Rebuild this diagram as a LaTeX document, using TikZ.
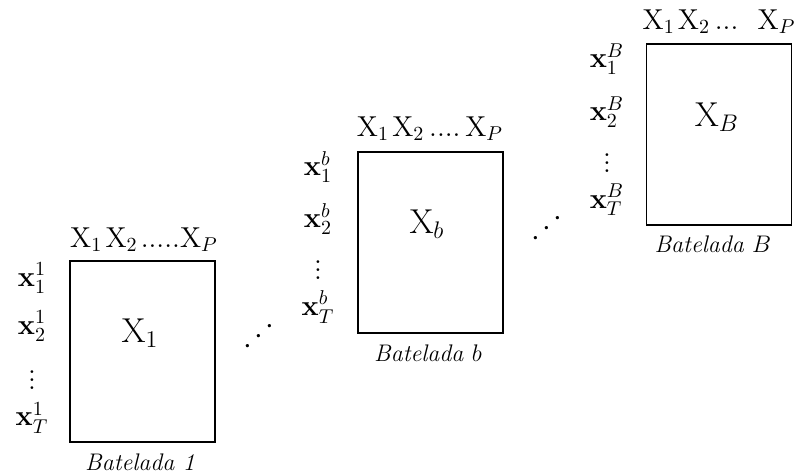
\documentclass[tikz,border=0pt]{standalone}
\usepackage{amsmath,amssymb}
\usepackage{graphicx}
\usetikzlibrary{positioning}

\begin{document}
\begin{tikzpicture}[x=0.5pt, y=-0.5pt,
    mat/.style={draw, thick, minimum width=72.5pt, minimum height=90.5pt, inner sep=0pt},
    inside/.style={font=\LARGE, inner sep=0pt},
    collab/.style={font=\Large, inner sep=1pt},
    rowlab/.style={font=\Large, inner sep=0pt},
    batch/.style={font=\large\itshape, inner sep=1pt},
    dd/.style={font=\LARGE, rotate=42, inner sep=0pt}]
  \useasboundingbox (0,0) rectangle (794,474);
  % Batelada 1
  \node[mat] (m1) at (142.5,351.5) {};
  \node[inside] (t1) at (140,333) {$\mathrm{X}_1$};
  \node[collab] (c1) at (144,240) {$\mathrm{X}_1\mkern2mu\mathrm{X}_2\mkern2mu.....\mathrm{X}_P$};
  \node[rowlab] (r11) at (32,278) {$\mathbf{x}_1^{1}$};
  \node[rowlab] (r12) at (32,326) {$\mathbf{x}_2^{1}$};
  \node[rowlab] (r13) at (32,374) {$\boldsymbol{\vdots}$};
  \node[rowlab] (r14) at (32,418) {$\mathbf{x}_T^{1}$};
  \node[batch] (b1) at (140,462) {Batelada 1};
  % Batelada b
  \node[mat] (mb) at (430.5,242.5) {};
  \node[inside] (tb) at (427,224) {$\mathrm{X}_b$};
  \node[collab] (cb) at (430,129) {$\mathrm{X}_1\mkern2mu\mathrm{X}_2\mkern3mu....\mkern3mu\mathrm{X}_P$};
  \node[rowlab] (rb1) at (318,167) {$\mathbf{x}_1^{b}$};
  \node[rowlab] (rb2) at (318,219) {$\mathbf{x}_2^{b}$};
  \node[rowlab] (rb3) at (318,264) {$\boldsymbol{\vdots}$};
  \node[rowlab] (rb4) at (318,307) {$\mathbf{x}_T^{b}$};
  \node[batch] (bb) at (428,353) {Batelada $b$};
  % Batelada B
  \node[mat] (mB) at (719,134.5) {};
  \node[inside] (tB) at (717,117) {$\mathrm{X}_B$};
  \node[collab] (cB) at (719,22) {$\mathrm{X}_1\mkern2mu\mathrm{X}_2\mkern3mu...\mkern12mu\mathrm{X}_P$};
  \node[rowlab] (rB1) at (607,59) {$\mathbf{x}_1^{B}$};
  \node[rowlab] (rB2) at (607,112) {$\mathbf{x}_2^{B}$};
  \node[rowlab] (rB3) at (607,157) {$\boldsymbol{\vdots}$};
  \node[rowlab] (rB4) at (607,200) {$\mathbf{x}_T^{B}$};
  \node[batch] (bB) at (713,244) {Batelada $B$};
  % reticencias
  \node[dd] (d1) at (259,336) {$\ldots$};
  \node[dd] (d2) at (547,228) {$\ldots$};
\end{tikzpicture}
\end{document}
